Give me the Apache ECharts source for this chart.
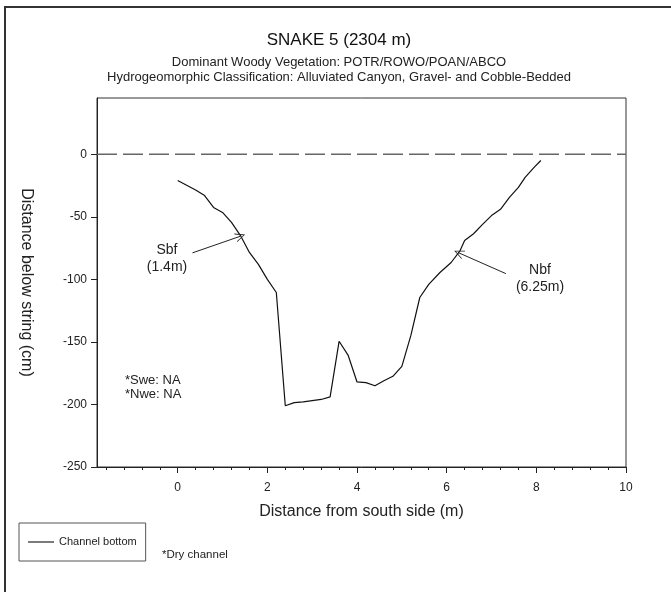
<!DOCTYPE html>
<html>
<head>
<meta charset="utf-8">
<title>SNAKE 5 cross-section</title>
<script src="https://cdn.jsdelivr.net/npm/echarts@6/dist/echarts.min.js"></script>
<style>
  html, body { margin: 0; padding: 0; background: #fff; }
  #chart { width: 671px; height: 592px; }
</style>
</head>
<body>
<div id="chart"></div>
<script>
// Cross-section survey: distance from the south side (m) vs depth below the string (cm)
const distance = [0, 0.4, 0.6, 0.8, 1.0, 1.2, 1.4, 1.6, 1.8, 2.0, 2.2, 2.4, 2.6, 2.8, 3.2, 3.4,
  3.6, 3.8, 4.0, 4.2, 4.4, 4.6, 4.8, 5.0, 5.2, 5.4, 5.6, 5.85, 6.1, 6.3, 6.4, 6.6, 6.8, 7.0,
  7.2, 7.4, 7.6, 7.75, 7.95, 8.1];
const depth = [-21, -28.5, -33, -42.5, -46.5, -54.5, -65, -78.5, -88, -100, -110.5, -201,
  -198.5, -198, -196, -194, -149.5, -160.5, -182, -182.5, -185, -181, -177.5, -169.5, -145,
  -114.5, -104, -94.5, -86.5, -77, -69, -63.5, -56, -49, -44, -34.5, -26.5, -18.5, -10.5, -5];

// String level (0 cm) across the whole plotted width
const stringX = [-1.8, 10];
const stringY = [0, 0];

// Axis ticks
const xMajorTicks = [0, 2, 4, 6, 8, 10];
const xMinorTicks = [-1.6, -1.2, -0.8, -0.4, 0, 0.4, 0.8, 1.2, 1.6, 2, 2.4, 2.8, 3.2, 3.6, 4,
  4.4, 4.8, 5.2, 5.6, 6, 6.4, 6.8, 7.2, 7.6, 8, 8.4, 8.8, 9.2, 9.6, 10];
const yTicks = [-250, -200, -150, -100, -50, 0];

// Bankfull markers: [label, text end point, point on the bed]
const sbf = { label: 'Sbf\n(1.4m)', from: [0.33, -78.8], to: [1.4, -65.5] };
const nbf = { label: 'Nbf\n(6.25m)', from: [7.32, -95.4], to: [6.27, -78.8] };

const FONT = '"Liberation Sans", Arial, sans-serif';
const openArrow = 'path://M5,0 L10,10 L9,10 L5,1.8 L1,10 L0,10 Z';
const lineIcon = 'path://M0,0 L100,0 L100,4 L0,4 Z';

const chart = echarts.init(document.getElementById('chart'), null, { renderer: 'canvas' });

const pairs = (xs, ys) => xs.map((x, i) => [x, ys[i]]);

chart.setOption({
  animation: false,
  backgroundColor: '#fff',
  textStyle: { fontFamily: FONT },
  grid: {
    left: 97, right: 45, top: 98, bottom: 125,
    show: true, borderColor: '#333', borderWidth: 1, backgroundColor: 'transparent'
  },
  legend: {
    left: 19, top: 523,
    padding: [12, 9, 12, 9],
    borderColor: '#555', borderWidth: 1,
    itemWidth: 26, itemHeight: 1.5,
    textStyle: { fontFamily: FONT, fontSize: 11, color: '#222', lineHeight: 14 },
    data: [{ name: 'Channel bottom', icon: lineIcon, itemStyle: { color: '#000' } }]
  },
  xAxis: [
    {
      type: 'value', min: -1.8, max: 10, position: 'bottom',
      name: 'Distance from south side (m)', nameLocation: 'middle', nameGap: 37,
      nameTextStyle: { fontFamily: FONT, fontSize: 16, color: '#222' },
      axisLine: { show: true, onZero: false, lineStyle: { color: '#222', width: 1 } },
      axisTick: { show: true, inside: false, length: 6, customValues: xMajorTicks, lineStyle: { color: '#222' } },
      axisLabel: { customValues: xMajorTicks, fontFamily: FONT, fontSize: 12, color: '#222', margin: 15 },
      splitLine: { show: false }
    },
    {
      type: 'value', min: -1.8, max: 10, position: 'bottom',
      axisLine: { show: false, onZero: false },
      axisTick: { show: true, inside: false, length: 3, customValues: xMinorTicks, lineStyle: { color: '#222' } },
      axisLabel: { show: false },
      splitLine: { show: false }
    }
  ],
  yAxis: {
    type: 'value', min: -250, max: 45,
    name: 'Distance below string (cm)', nameLocation: 'middle', nameGap: 63, nameRotate: -90,
    nameTextStyle: { fontFamily: FONT, fontSize: 16, color: '#222' },
    axisLine: { show: true, onZero: false, lineStyle: { color: '#222', width: 1 } },
    axisTick: { show: true, inside: false, length: 6, customValues: yTicks, lineStyle: { color: '#222' } },
    axisLabel: { customValues: yTicks, fontFamily: FONT, fontSize: 12, color: '#222', margin: 10 },
    splitLine: { show: false }
  },
  series: [
    {
      name: 'String',
      type: 'line',
      data: pairs(stringX, stringY),
      symbol: 'none',
      silent: true,
      lineStyle: { color: '#666', width: 1.5, type: [20, 6] },
      z: 2
    },
    {
      name: 'Channel bottom',
      type: 'line',
      data: pairs(distance, depth),
      symbol: 'none',
      lineStyle: { color: '#111', width: 1.2 },
      itemStyle: { color: '#111' },
      z: 3,
      markLine: {
        silent: true,
        symbol: ['none', openArrow],
        symbolSize: [9, 10],
        label: { show: false },
        lineStyle: { color: '#222', width: 1, type: 'solid' },
        data: [
          [{ coord: sbf.from }, { coord: sbf.to }],
          [{ coord: nbf.from }, { coord: nbf.to }]
        ]
      }
    }
  ],
  graphic: [
    {
      type: 'rect', silent: true,
      shape: { x: 5, y: 7, width: 720, height: 640 },
      style: { fill: 'none', stroke: '#333', lineWidth: 2 }
    },
    {
      type: 'text', x: 339, y: 40,
      style: { text: 'SNAKE 5 (2304 m)', font: '17px ' + FONT, fill: '#111', textAlign: 'center', textVerticalAlign: 'middle' }
    },
    {
      type: 'text', x: 339, y: 62,
      style: { text: 'Dominant Woody Vegetation: POTR/ROWO/POAN/ABCO', font: '13px ' + FONT, fill: '#222', textAlign: 'center', textVerticalAlign: 'middle' }
    },
    {
      type: 'text', x: 339, y: 77,
      style: { text: 'Hydrogeomorphic Classification: Alluviated Canyon, Gravel- and Cobble-Bedded', font: '13px ' + FONT, fill: '#222', textAlign: 'center', textVerticalAlign: 'middle' }
    },
    {
      type: 'text', x: 167, y: 259,
      style: { text: sbf.label, font: '14px ' + FONT, fill: '#222', textAlign: 'center', textVerticalAlign: 'middle', lineHeight: 17 }
    },
    {
      type: 'text', x: 540, y: 279,
      style: { text: nbf.label, font: '14px ' + FONT, fill: '#222', textAlign: 'center', textVerticalAlign: 'middle', lineHeight: 17 }
    },
    {
      type: 'text', x: 125, y: 387,
      style: { text: '*Swe: NA\n*Nwe: NA', font: '13px ' + FONT, fill: '#222', textAlign: 'left', textVerticalAlign: 'middle', lineHeight: 14 }
    },
    {
      type: 'text', x: 162, y: 555,
      style: { text: '*Dry channel', font: '11.5px ' + FONT, fill: '#222', textAlign: 'left', textVerticalAlign: 'middle' }
    }
  ]
});
</script>
</body>
</html>
